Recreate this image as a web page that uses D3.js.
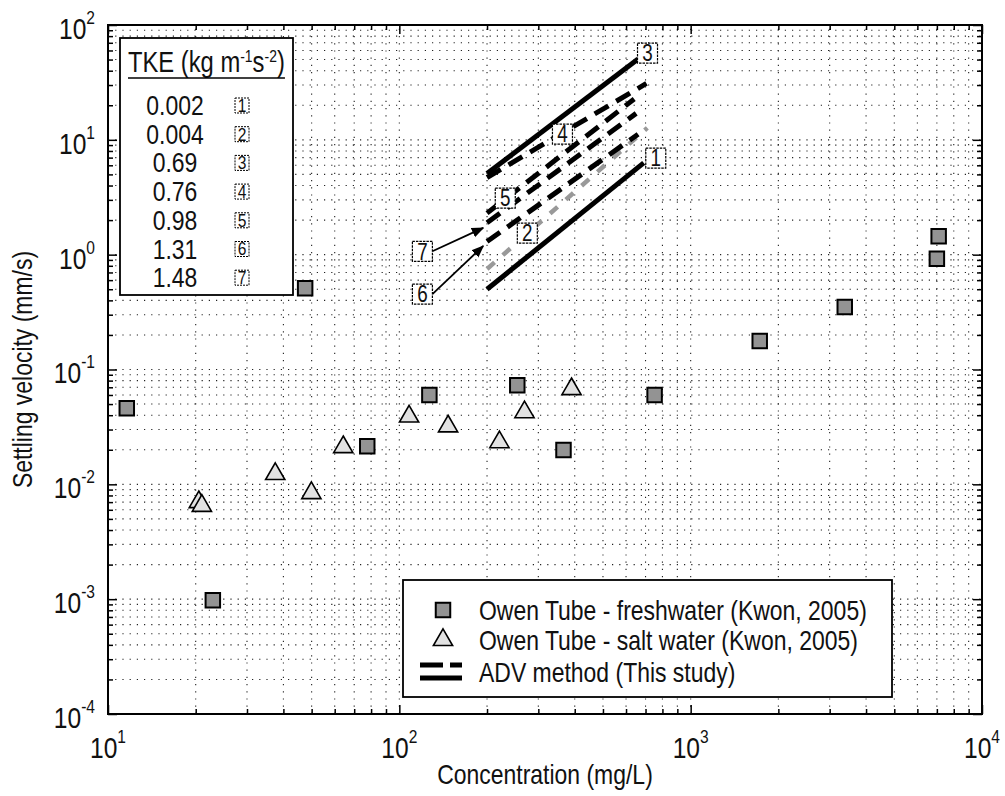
<!DOCTYPE html>
<html>
<head>
<meta charset="utf-8">
<script src="https://cdnjs.cloudflare.com/ajax/libs/d3/7.8.5/d3.min.js"></script>
<style>
    body { margin: 0; background: #fff; }
    svg text { font-family: "Liberation Sans", Arial, sans-serif; fill: #111; }
</style>
</head>
<body>
<div id="chart"></div>
<script>
// Owen Tube - freshwater (Kwon, 2005)
var freshConc = [11.6, 47.5, 126.8, 254, 77.6, 22.9, 7100, 7000, 3380, 1726, 752, 366];
var freshVel = [0.046, 0.51, 0.060, 0.073, 0.0215, 0.00098, 1.45, 0.92, 0.35, 0.177, 0.060, 0.0199];

// Owen Tube - salt water (Kwon, 2005)
var saltConc = [20.5, 21, 37.5, 49.9, 64.2, 108, 147, 220.6, 268.9, 390];
var saltVel = [0.0070, 0.0065, 0.0123, 0.0084, 0.0211, 0.039, 0.032, 0.0233, 0.0425, 0.0675];

// ADV method (this study): one fitted line per TKE level, start and end points
var advIds = ['1', '2', '3', '4', '5', '6', '7'];
var advTke = ['0.002', '0.004', '0.69', '0.76', '0.98', '1.31', '1.48'];
var advConc = [[200, 690], [200, 710], [200, 660], [200, 705], [200, 640], [200, 660], [200, 650]];
var advVel = [[0.50, 6.3], [0.75, 12.7], [5.1, 50.5], [4.7, 31], [2.3, 22.7], [1.3, 11.2], [1.9, 17]];
var advStyle = ['solid', 'gray', 'solid', 'dash', 'dash', 'dash', 'dash'];

// numbered boxes placed next to the lines (data coordinates)
var tagIds = ['3', '4', '1', '5', '2', '7', '6'];
var tagConc = [711, 363, 759, 231, 275, 120, 120];
var tagVel = [57, 11.2, 6.94, 3.11, 1.54, 1.07, 0.454];
// arrows from boxes 7 and 6 to their lines
var arrowIds = ['7', '6'];
var arrowConc = [194, 194];
var arrowVel = [1.71, 1.19];

// tick labels
var xTickExp = ['1', '2', '3', '4'];
var yTickExp = ['-4', '-3', '-2', '-1', '0', '1', '2'];

var width = 1005, height = 796;
var margin = { top: 25, right: 23, bottom: 82, left: 108 };
var narrow = 0.82;   // the scanned figure uses a condensed Helvetica

var svg = d3.select('#chart').append('svg')
    .attr('width', width)
    .attr('height', height);

var x = d3.scaleLog().domain([10, 10000]).range([margin.left, width - margin.right]);
var y = d3.scaleLog().domain([1e-4, 1e2]).range([height - margin.bottom, margin.top]);

var x0 = margin.left, x1 = width - margin.right;
var y0 = height - margin.bottom, y1 = margin.top;

var xMajor = xTickExp.map(function(e) { return Math.pow(10, +e); });
var yMajor = yTickExp.map(function(e) { return Math.pow(10, +e); });
var xAll = x.ticks();
var yAll = y.ticks();
var xMinor = xAll.filter(function(d) { return xMajor.indexOf(d) < 0; });
var yMinor = yAll.filter(function(d) { return yMajor.indexOf(d) < 0; });

// dotted grid on every tick, major and minor
var grid = svg.append('g').attr('class', 'grid')
    .attr('stroke', '#222')
    .attr('stroke-width', 1.1)
    .attr('stroke-dasharray', '1.2,6');

grid.selectAll('.vg')
    .data(xAll.filter(function(d) { return d > 10 && d < 10000; }))
    .enter().append('line')
    .attr('x1', function(d) { return x(d); })
    .attr('x2', function(d) { return x(d); })
    .attr('y1', y0).attr('y2', y1);

grid.selectAll('.hg')
    .data(yAll.filter(function(d) { return d > 1e-4 && d < 1e2; }))
    .enter().append('line')
    .attr('y1', function(d) { return y(d); })
    .attr('y2', function(d) { return y(d); })
    .attr('x1', x0).attr('x2', x1);

// ticks on all four sides, pointing in
function tickAxis(axis, values, size, transform) {
    svg.append('g')
        .attr('transform', transform)
        .call(axis.tickValues(values).tickSize(size).tickSizeOuter(0).tickFormat(''))
        .call(function(g) {
            g.select('.domain').remove();
            g.selectAll('line').attr('stroke', '#000').attr('stroke-width', 1.5);
        });
}
tickAxis(d3.axisBottom(x), xMajor, -9, 'translate(0,' + y0 + ')');
tickAxis(d3.axisBottom(x), xMinor, -5, 'translate(0,' + y0 + ')');
tickAxis(d3.axisTop(x), xMajor, -9, 'translate(0,' + y1 + ')');
tickAxis(d3.axisTop(x), xMinor, -5, 'translate(0,' + y1 + ')');
tickAxis(d3.axisLeft(y), yMajor, -9, 'translate(' + x0 + ',0)');
tickAxis(d3.axisLeft(y), yMinor, -5, 'translate(' + x0 + ',0)');
tickAxis(d3.axisRight(y), yMajor, -9, 'translate(' + x1 + ',0)');
tickAxis(d3.axisRight(y), yMinor, -5, 'translate(' + x1 + ',0)');

// TKE legend (top left)
var tke = svg.append('g').attr('class', 'tke-legend');
tke.append('rect')
    .attr('x', 120).attr('y', 38)
    .attr('width', 173).attr('height', 257)
    .attr('fill', '#fff')
    .attr('stroke', '#000')
    .attr('stroke-width', 1.8);

var tkeTitle = tke.append('text')
    .attr('x', 128).attr('y', 72)
    .attr('font-size', 29);
tkeTitle.append('tspan').text('TKE (kg m');
tkeTitle.append('tspan').attr('font-size', 17).attr('dy', -10).text('-1');
tkeTitle.append('tspan').attr('dy', 10).text('s');
tkeTitle.append('tspan').attr('font-size', 17).attr('dy', -10).text('-2');
tkeTitle.append('tspan').attr('dy', 10).text(')');

var titleLen = tkeTitle.node().getComputedTextLength() * narrow;
tke.append('line')
    .attr('x1', 128).attr('x2', 128 + titleLen)
    .attr('y1', 78).attr('y2', 78)
    .attr('stroke', '#000').attr('stroke-width', 1.5);

var tkeRows = tke.selectAll('.row')
    .data(advIds)
    .enter().append('g')
    .attr('class', 'row')
    .attr('transform', function(d, i) { return 'translate(0,' + (105 + i * 28.7) + ')'; });

tkeRows.append('text')
    .attr('x', 175)
    .attr('dy', '0.36em')
    .attr('text-anchor', 'middle')
    .attr('font-size', 28)
    .text(function(d, i) { return advTke[i]; });

tkeRows.append('rect')
    .attr('x', 235).attr('y', -7)
    .attr('width', 14).attr('height', 15)
    .attr('fill', '#fff')
    .attr('stroke', '#000')
    .attr('stroke-width', 1)
    .attr('stroke-dasharray', '2,1');

tkeRows.append('text')
    .attr('x', 242)
    .attr('dy', '0.36em')
    .attr('text-anchor', 'middle')
    .attr('font-size', 19)
    .text(function(d) { return d; });

// ADV lines
var line = d3.line()
    .x(function(p) { return x(p[0]); })
    .y(function(p) { return y(p[1]); });

var advData = advIds.map(function(id, i) {
    return { id: id, style: advStyle[i], pts: [[advConc[i][0], advVel[i][0]], [advConc[i][1], advVel[i][1]]] };
});

svg.append('g').selectAll('path')
    .data(advData)
    .enter().append('path')
    .attr('d', function(d) { return line(d.pts); })
    .attr('fill', 'none')
    .attr('stroke', function(d) { return d.style === 'gray' ? '#999' : '#000'; })
    .attr('stroke-width', function(d) { return d.style === 'gray' ? 4.5 : 5; })
    .attr('stroke-dasharray', function(d) {
        if (d.style === 'dash') return '16,9';
        if (d.style === 'gray') return '10,11';
        return null;
    });

// arrows for 7 and 6
svg.append('defs').append('marker')
    .attr('id', 'arrowhead')
    .attr('viewBox', '0 0 10 10')
    .attr('refX', 9).attr('refY', 5)
    .attr('markerWidth', 7).attr('markerHeight', 7)
    .attr('orient', 'auto')
    .append('path')
    .attr('d', 'M0,1L10,5L0,9z')
    .attr('fill', '#000');

svg.append('g').selectAll('line')
    .data(arrowIds)
    .enter().append('line')
    .attr('x1', function(d) { var i = tagIds.indexOf(d); return x(tagConc[i]) + 10; })
    .attr('y1', function(d) { var i = tagIds.indexOf(d); return y(tagVel[i]); })
    .attr('x2', function(d, i) { return x(arrowConc[i]); })
    .attr('y2', function(d, i) { return y(arrowVel[i]); })
    .attr('stroke', '#000')
    .attr('stroke-width', 1.8)
    .attr('marker-end', 'url(#arrowhead)');

// numbered boxes
var tags = svg.append('g').selectAll('g')
    .data(tagIds)
    .enter().append('g')
    .attr('transform', function(d, i) { return 'translate(' + x(tagConc[i]) + ',' + y(tagVel[i]) + ')'; });

tags.append('rect')
    .attr('x', -10).attr('y', -10)
    .attr('width', 20).attr('height', 20)
    .attr('fill', '#fff')
    .attr('stroke', '#000')
    .attr('stroke-width', 1.2)
    .attr('stroke-dasharray', '2.5,1');

tags.append('text')
    .attr('dy', '0.36em')
    .attr('text-anchor', 'middle')
    .attr('font-size', 23)
    .text(function(d) { return d; });

// Owen tube markers
var squareSym = d3.symbol().type(d3.symbolSquare).size(210);
var triSym = d3.symbol().type(d3.symbolTriangle).size(160);

svg.append('g').selectAll('path')
    .data(saltConc)
    .enter().append('path')
    .attr('d', triSym)
    .attr('transform', function(d, i) { return 'translate(' + x(d) + ',' + y(saltVel[i]) + ')'; })
    .attr('fill', '#e2e2e2')
    .attr('stroke', '#000')
    .attr('stroke-width', 1.6);

svg.append('g').selectAll('path')
    .data(freshConc)
    .enter().append('path')
    .attr('d', squareSym)
    .attr('transform', function(d, i) { return 'translate(' + x(d) + ',' + y(freshVel[i]) + ')'; })
    .attr('fill', '#939393')
    .attr('stroke', '#000')
    .attr('stroke-width', 2);

// series legend (bottom right)
var leg = svg.append('g').attr('class', 'legend');
leg.append('rect')
    .attr('x', 403).attr('y', 580)
    .attr('width', 489).attr('height', 117)
    .attr('fill', '#fff')
    .attr('stroke', '#000')
    .attr('stroke-width', 1.8);

var legText = ['Owen Tube - freshwater (Kwon, 2005)', 'Owen Tube - salt water (Kwon, 2005)', 'ADV method (This study)'];
var legY = [610, 640, 672];

leg.selectAll('text')
    .data(legText)
    .enter().append('text')
    .attr('x', 479)
    .attr('y', function(d, i) { return legY[i]; })
    .attr('dy', '0.36em')
    .attr('font-size', 28)
    .text(function(d) { return d; });

leg.append('path')
    .attr('d', squareSym)
    .attr('transform', 'translate(443,' + legY[0] + ')')
    .attr('fill', '#939393')
    .attr('stroke', '#000')
    .attr('stroke-width', 2);

leg.append('path')
    .attr('d', triSym)
    .attr('transform', 'translate(443,' + legY[1] + ')')
    .attr('fill', '#e2e2e2')
    .attr('stroke', '#000')
    .attr('stroke-width', 1.6);

leg.append('line')
    .attr('x1', 420).attr('x2', 462)
    .attr('y1', 665).attr('y2', 665)
    .attr('stroke', '#000').attr('stroke-width', 5)
    .attr('stroke-dasharray', '23,7');
leg.append('line')
    .attr('x1', 420).attr('x2', 462)
    .attr('y1', 678).attr('y2', 678)
    .attr('stroke', '#000').attr('stroke-width', 5);

// frame
svg.append('rect')
    .attr('x', x0).attr('y', y1)
    .attr('width', x1 - x0).attr('height', y0 - y1)
    .attr('fill', 'none')
    .attr('stroke', '#000')
    .attr('stroke-width', 2);

// tick labels with superscript exponents
var xLab = svg.append('g').selectAll('text')
    .data(xMajor)
    .enter().append('text')
    .attr('x', function(d) { return x(d); })
    .attr('y', 758)
    .attr('text-anchor', 'middle')
    .attr('font-size', 30);
xLab.append('tspan').text('10');
xLab.append('tspan').attr('font-size', 19).attr('dy', -15).text(function(d, i) { return xTickExp[i]; });

var yLab = svg.append('g').selectAll('text')
    .data(yMajor)
    .enter().append('text')
    .attr('x', 95)
    .attr('y', function(d) { return y(d) + 14; })
    .attr('text-anchor', 'end')
    .attr('font-size', 30);
yLab.append('tspan').text('10');
yLab.append('tspan').attr('font-size', 19).attr('dy', -15).text(function(d, i) { return yTickExp[i]; });

// axis titles
svg.append('text')
    .attr('x', (x0 + x1) / 2)
    .attr('y', 784)
    .attr('text-anchor', 'middle')
    .attr('font-size', 28)
    .text('Concentration (mg/L)');

svg.append('text')
    .attr('transform', 'translate(32,' + ((y0 + y1) / 2) + ') rotate(-90)')
    .attr('text-anchor', 'middle')
    .attr('font-size', 28)
    .text('Settling velocity (mm/s)');

// squeeze every label horizontally around its anchor, like the condensed face of the original
svg.selectAll('text').each(function() {
    var tx = +this.getAttribute('x') || 0;
    var t = this.getAttribute('transform') || '';
    d3.select(this).attr('transform',
        t + ' translate(' + tx + ',0) scale(' + narrow + ',1) translate(' + (-tx) + ',0)');
});
</script>
</body>
</html>
